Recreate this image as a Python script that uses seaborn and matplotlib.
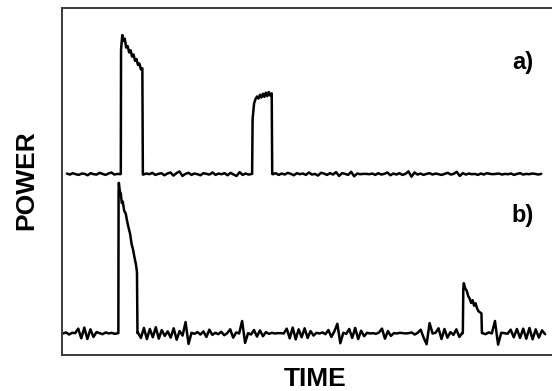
import numpy as np
import pandas as pd
import matplotlib
matplotlib.use("Agg")
import matplotlib.pyplot as plt
import seaborn as sns

# ---- trace a) : baseline noise segments + two pulses ----
a_noise1_span = (1.0, 11.9)
a_noise1 = [52.3, 52.0, 52.4, 52.1, 51.9, 52.3, 52.2, 51.8, 52.4, 52.1,
            52.0, 52.5, 52.2, 51.9, 52.3, 52.6, 52.0, 52.2, 52.1]
a_pulse1_t = [12.0, 12.05, 12.3, 12.5, 12.8, 13.1, 13.4, 13.7, 14.0, 14.3,
              14.6, 14.9, 15.2, 15.5, 15.8, 16.1, 16.4, 16.5]
a_pulse1_p = [52.2, 88.0, 92.2, 90.5, 91.2, 88.6, 89.0, 87.2, 87.8, 86.0,
              86.6, 84.8, 85.3, 83.6, 84.0, 82.3, 82.6, 52.0]
a_noise2_span = (16.6, 38.7)
a_noise2 = [52.0, 52.3, 52.1, 52.5, 51.9, 52.2, 52.4, 51.8, 52.3, 52.6,
            51.7, 52.4, 52.9, 51.6, 52.2, 52.5, 51.9, 52.3, 52.1, 51.8,
            52.4, 52.2, 52.0, 52.6, 51.9, 52.3, 52.1, 52.4, 51.8, 52.5,
            52.0, 51.6, 52.7, 51.9, 52.3, 52.0, 52.2]
a_pulse2_t = [38.8, 38.9, 39.2, 39.5, 39.8, 40.1, 40.4, 40.7, 41.0, 41.3,
              41.6, 41.9, 42.2, 42.5, 42.8, 42.9]
a_pulse2_p = [52.2, 68.0, 72.5, 73.8, 74.5, 73.9, 75.0, 74.2, 75.3, 74.4,
              75.6, 74.6, 75.8, 74.8, 75.4, 52.2]
a_noise3_span = (43.0, 97.8)
a_noise3 = [52.1, 52.4, 51.9, 52.3, 52.0, 52.5, 52.2, 51.8, 52.4, 52.1,
            52.3, 51.9, 52.6, 52.0, 52.2, 51.7, 52.5, 52.3, 51.9, 52.4,
            52.0, 52.7, 51.6, 52.4, 52.2, 51.9, 52.8, 51.5, 52.3, 52.1,
            52.2, 52.2, 52.1, 52.3, 51.9, 52.4, 52.0, 52.2, 52.6, 51.8,
            52.3, 52.0, 52.4, 51.9, 52.2, 52.9, 51.4, 52.6, 52.0, 52.3,
            51.9, 52.2, 52.4, 52.0, 52.3, 52.1, 51.9, 52.2, 52.5, 52.0,
            52.2, 52.8, 51.6, 52.4, 52.0, 52.3, 52.1, 52.2, 51.9, 52.3,
            52.0, 52.4, 52.2, 52.1, 52.2, 52.3, 52.0, 52.2, 52.1, 52.3,
            51.9, 52.2, 52.4, 52.0, 52.2, 52.1, 52.3, 52.2, 52.0, 52.2]

# ---- trace b) ----
b_noise1_span = (0.2, 11.4)
b_noise1 = [6.2, 6.5, 5.9, 6.4, 6.3, 7.6, 4.8, 7.9, 4.6, 7.4,
            5.2, 6.6, 6.3, 6.0, 6.5, 6.2, 6.4, 6.1, 6.3]
b_pulse1_t = [11.5, 11.55, 11.6, 11.8, 12.0, 12.2, 12.4, 12.7, 13.0, 13.3,
              13.6, 13.9, 14.2, 14.5, 14.8, 15.1, 15.3, 15.4]
b_pulse1_p = [6.3, 47.0, 49.6, 47.2, 46.5, 43.8, 44.2, 41.5, 40.8, 38.5,
              36.6, 34.9, 32.0, 30.4, 28.1, 26.0, 23.9, 6.3]
b_noise2_span = (15.5, 81.7)
b_noise2 = [6.5, 4.9, 7.8, 4.6, 7.5, 5.1, 8.0, 4.7, 7.2, 5.5,
            6.8, 5.0, 7.7, 4.4, 6.9, 5.6, 9.5, 3.2, 6.4, 6.1,
            6.6, 5.9, 6.8, 5.2, 7.3, 5.8, 6.4, 6.0, 6.7, 5.7,
            6.3, 7.4, 5.0, 6.5, 6.2, 9.8, 3.5, 6.3, 5.9, 7.2,
            5.3, 7.1, 5.4, 6.6, 6.1, 6.4, 6.2, 6.3, 6.3, 6.2,
            7.6, 4.8, 7.9, 4.5, 7.4, 5.1, 7.7, 4.9, 6.9, 5.6,
            6.4, 6.2, 6.5, 6.0, 7.2, 5.2, 6.8, 9.0, 3.4, 6.4,
            6.1, 7.5, 4.9, 7.8, 4.6, 7.0, 5.4, 6.4, 6.2, 6.3,
            6.1, 6.5, 7.6, 4.7, 6.9, 5.5, 6.3, 6.2, 6.4, 6.3,
            6.2, 6.3, 6.5, 5.9, 6.4, 7.3, 5.0, 3.1, 9.2, 6.2,
            6.4, 7.7, 4.6, 7.5, 5.0, 6.6, 5.8, 7.4, 5.2, 6.4]
b_pulse2_t = [81.8, 81.9, 82.0, 82.3, 82.6, 82.9, 83.2, 83.5, 83.8, 84.1,
              84.4, 84.7, 85.0, 85.3, 85.6, 85.7]
b_pulse2_p = [6.3, 19.0, 20.7, 19.2, 18.5, 17.0, 16.2, 15.0, 15.8, 14.2,
              14.9, 13.5, 12.6, 12.3, 12.0, 6.3]
b_noise3_span = (85.8, 98.6)
b_noise3 = [6.3, 6.0, 6.5, 6.2, 9.8, 3.0, 6.4, 6.3, 6.1, 7.3,
            5.1, 7.5, 4.9, 7.6, 4.7, 7.8, 4.5, 7.4, 5.0, 7.1, 6.0]


def build(parts):
    # parts: list of ("noise", span, values) or ("pulse", times, values)
    ts, ps = [], []
    for kind, a, b in parts:
        if kind == "noise":
            ts.extend(np.linspace(a[0], a[1], len(b)))
        else:
            ts.extend(a)
        ps.extend(b)
    return ts, ps


ta, pa = build([("noise", a_noise1_span, a_noise1),
                ("pulse", a_pulse1_t, a_pulse1_p),
                ("noise", a_noise2_span, a_noise2),
                ("pulse", a_pulse2_t, a_pulse2_p),
                ("noise", a_noise3_span, a_noise3)])
tb, pb = build([("noise", b_noise1_span, b_noise1),
                ("pulse", b_pulse1_t, b_pulse1_p),
                ("noise", b_noise2_span, b_noise2),
                ("pulse", b_pulse2_t, b_pulse2_p),
                ("noise", b_noise3_span, b_noise3)])

df = pd.concat([
    pd.DataFrame({"time": ta, "power": pa, "trace": "a"}),
    pd.DataFrame({"time": tb, "power": pb, "trace": "b"}),
])

sns.set_style("white")
plt.rcParams['font.family'] = ['Liberation Sans', 'DejaVu Sans']
plt.rcParams['text.color'] = 'black'

fig = plt.figure(figsize=(5.52, 3.91), dpi=100)
ax = fig.add_axes([62 / 552, 1 - 355 / 391, 1 - 62 / 552, (355 - 8) / 391])

for name, g in df.groupby("trace"):
    sns.lineplot(data=g, x="time", y="power", sort=False, estimator=None,
                 color="black", linewidth=1.8, ax=ax)

ax.set_xlim(0, 100)
ax.set_ylim(0, 100)
ax.set_xticks([])
ax.set_yticks([52.2])
ax.set_yticklabels([])
ax.tick_params(axis="y", direction="inout", length=7, width=1, color="#333333")
ax.set_xlabel("")
ax.set_ylabel("")
for side in ["left", "top", "bottom"]:
    ax.spines[side].set_color("#3a3a3a")
    ax.spines[side].set_linewidth(1.4)
ax.spines["right"].set_visible(False)

ax.text(94.1, 84.4, "a)", fontsize=17, fontweight="bold", color="black",
        ha="center", va="center")
ax.text(94.1, 40.1, "b)", fontsize=17, fontweight="bold", color="black",
        ha="center", va="center")

fig.text(26 / 552, 1 - 180 / 391, "POWER", rotation=90, fontsize=19,
         fontweight="bold", color="black", ha="center", va="center")
fig.text(315 / 552, 1 - 379 / 391, "TIME", fontsize=19,
         fontweight="bold", color="black", ha="center", va="center")

fig.savefig("out.png", dpi=100)
